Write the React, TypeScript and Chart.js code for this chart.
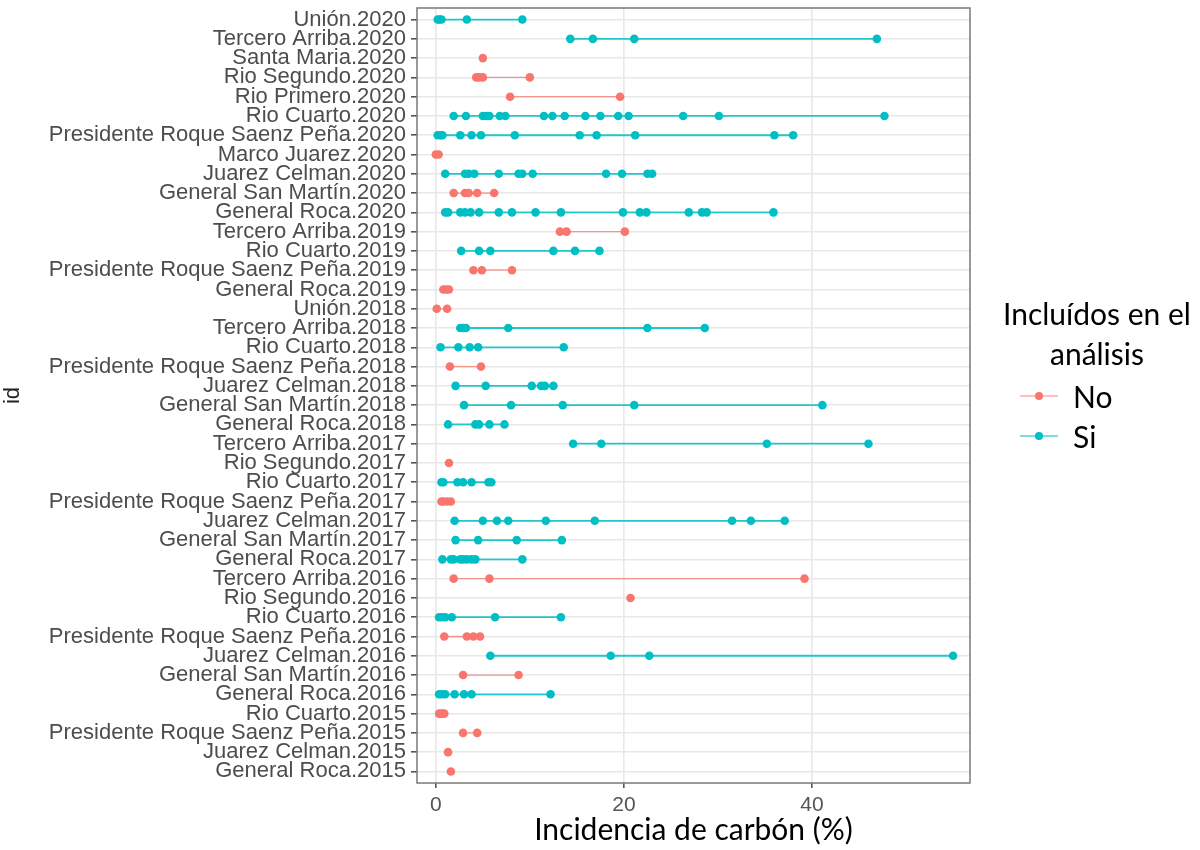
import React, { useEffect, useRef } from 'react';
import { Chart, registerables } from 'chart.js';
Chart.register(...registerables);

// Row labels, top to bottom
const ids: string[] = [
  'Unión.2020', 'Tercero Arriba.2020', 'Santa Maria.2020', 'Rio Segundo.2020', 'Rio Primero.2020',
  'Rio Cuarto.2020', 'Presidente Roque Saenz Peña.2020', 'Marco Juarez.2020', 'Juarez Celman.2020',
  'General San Martín.2020', 'General Roca.2020', 'Tercero Arriba.2019', 'Rio Cuarto.2019',
  'Presidente Roque Saenz Peña.2019', 'General Roca.2019', 'Unión.2018', 'Tercero Arriba.2018',
  'Rio Cuarto.2018', 'Presidente Roque Saenz Peña.2018', 'Juarez Celman.2018', 'General San Martín.2018',
  'General Roca.2018', 'Tercero Arriba.2017', 'Rio Segundo.2017', 'Rio Cuarto.2017',
  'Presidente Roque Saenz Peña.2017', 'Juarez Celman.2017', 'General San Martín.2017', 'General Roca.2017',
  'Tercero Arriba.2016', 'Rio Segundo.2016', 'Rio Cuarto.2016', 'Presidente Roque Saenz Peña.2016',
  'Juarez Celman.2016', 'General San Martín.2016', 'General Roca.2016', 'Rio Cuarto.2015',
  'Presidente Roque Saenz Peña.2015', 'Juarez Celman.2015', 'General Roca.2015',
];

// Included in the analysis ("Si"/"No") per row
const included: string[] = [
  'Si', 'Si', 'No', 'No', 'No', 'Si', 'Si', 'No', 'Si', 'No',
  'Si', 'No', 'Si', 'No', 'No', 'No', 'Si', 'Si', 'No', 'Si',
  'Si', 'Si', 'Si', 'No', 'Si', 'No', 'Si', 'Si', 'Si', 'No',
  'No', 'Si', 'No', 'Si', 'No', 'Si', 'No', 'No', 'No', 'No',
];

// Incidencia de carbón (%) per row
const incidence: number[][] = [
  [0.2, 0.4, 0.6, 3.3, 9.2],
  [14.3, 16.7, 21.1, 46.9],
  [5.0],
  [4.3, 4.6, 5.0, 10.0],
  [7.9, 19.6],
  [1.9, 3.2, 5.0, 5.4, 5.7, 6.8, 7.4, 11.5, 12.4, 13.7, 15.9, 17.5, 19.4, 20.5, 26.3, 30.1, 47.7],
  [0.2, 0.5, 0.7, 2.6, 3.8, 4.8, 8.4, 15.3, 17.1, 21.2, 36.0, 38.0],
  [0.0, 0.3],
  [1.0, 3.1, 3.5, 4.1, 6.7, 8.8, 9.2, 10.3, 18.1, 19.8, 22.5, 23.0],
  [1.9, 3.1, 3.5, 4.4, 6.2],
  [1.0, 1.3, 2.6, 3.1, 3.7, 4.6, 6.7, 8.1, 10.6, 13.3, 19.9, 21.7, 22.4, 26.9, 28.3, 28.8, 35.9],
  [13.2, 13.9, 20.1],
  [2.7, 4.6, 5.8, 12.5, 14.8, 17.4],
  [4.0, 4.9, 8.1],
  [0.8, 1.1, 1.4],
  [0.1, 1.2],
  [2.6, 2.9, 3.2, 7.7, 22.5, 28.6],
  [0.5, 2.4, 3.6, 4.5, 13.6],
  [1.5, 4.8],
  [2.1, 5.3, 10.2, 11.2, 11.6, 12.5],
  [3.0, 8.0, 13.5, 21.1, 41.1],
  [1.3, 4.2, 4.6, 5.7, 7.3],
  [14.6, 17.6, 35.2, 46.0],
  [1.4],
  [0.6, 0.8, 2.3, 2.9, 3.8, 5.6, 5.9],
  [0.6, 0.8, 1.2, 1.6],
  [2.0, 5.0, 6.5, 7.7, 11.7, 16.9, 31.5, 33.5, 37.1],
  [2.1, 4.5, 8.6, 13.4],
  [0.7, 1.6, 1.9, 2.6, 2.9, 3.3, 3.8, 4.2, 9.2],
  [1.9, 5.7, 39.2],
  [20.7],
  [0.35, 0.65, 1.0, 1.7, 6.3, 13.3],
  [0.9, 3.3, 4.0, 4.7],
  [5.8, 18.6, 22.7, 55.0],
  [2.9, 8.8],
  [0.35, 0.65, 1.0, 2.0, 3.0, 3.8, 12.2],
  [0.35, 0.65, 0.9],
  [2.9, 4.4],
  [1.3],
  [1.6],
];

const xTicks: number[] = [0, 20, 40];
const legendLabels: string[] = ['No', 'Si'];
const legendTitle: string[] = ['Incluídos en el', 'análisis'];
const colors: Record<string, string> = { No: '#F8766D', Si: '#00BFC4' };
const lineColors: Record<string, string> = { No: 'rgba(248,118,109,0.75)', Si: 'rgba(0,191,196,0.85)' };

const framePlugin = {
  id: 'frame',
  afterDraw(chart: any) {
    const { ctx, chartArea } = chart;
    ctx.save();
    ctx.strokeStyle = '#7a7a7a';
    ctx.lineWidth = 1.5;
    ctx.strokeRect(chartArea.left, chartArea.top, chartArea.right - chartArea.left, chartArea.bottom - chartArea.top);
    ctx.restore();
  },
};

export default function App() {
  const ref = useRef<HTMLCanvasElement | null>(null);

  useEffect(() => {
    if (!ref.current) return;
    const datasets = ids.map((id, i) => ({
      label: id,
      data: incidence[i].map((v) => ({ x: v, y: i })),
      showLine: true,
      borderColor: lineColors[included[i]],
      backgroundColor: colors[included[i]],
      pointBorderColor: colors[included[i]],
      pointBackgroundColor: colors[included[i]],
      borderWidth: included[i] === 'Si' ? 1.8 : 1.3,
      pointRadius: 4.3,
      pointBorderWidth: 0,
    }));
    const chart = new Chart(ref.current, {
      type: 'scatter',
      data: { datasets },
      plugins: [framePlugin],
      options: {
        animation: false,
        responsive: false,
        layout: { padding: { left: 0, top: 8, right: 230, bottom: 0 } },
        plugins: { legend: { display: false }, tooltip: { enabled: false } },
        scales: {
          x: {
            type: 'linear',
            min: -2.0,
            max: 56.8,
            afterBuildTicks: (scale: any) => {
              scale.ticks = xTicks.map((v) => ({ value: v }));
            },
            afterFit: (scale: any) => {
              scale.height = 67;
              scale.paddingLeft = 0;
              scale.paddingRight = 0;
            },
            grid: { color: '#E8E8E8', lineWidth: 1.6, tickColor: '#555', tickLength: 5, drawTicks: true },
            border: { display: false },
            ticks: {
              color: '#555',
              font: { family: 'Liberation Sans', size: 21 },
              padding: 5,
              maxRotation: 0,
              callback: (v: any) => String(v),
            },
            title: {
              display: true,
              text: 'Incidencia de carbón (%)',
              color: '#000',
              font: { family: 'Lato', size: 30 },
              padding: { top: 0, bottom: 2 },
            },
          },
          y: {
            type: 'linear',
            reverse: true,
            min: -0.6,
            max: 39.6,
            afterBuildTicks: (scale: any) => {
              scale.ticks = ids.map((_, i) => ({ value: i }));
            },
            afterFit: (scale: any) => {
              scale.width = 417;
              scale.paddingTop = 0;
              scale.paddingBottom = 0;
            },
            grid: { color: '#E8E8E8', lineWidth: 1.6, tickColor: '#555', tickLength: 6, drawTicks: true },
            border: { display: false },
            ticks: {
              autoSkip: false,
              color: '#4D4D4D',
              font: { family: 'Liberation Sans', size: 22 },
              padding: 5,
              callback: (v: any) => ids[v as number] ?? '',
            },
            title: {
              display: true,
              text: 'id',
              color: '#222',
              font: { family: 'Liberation Sans', size: 22 },
              padding: { top: 0, bottom: 4 },
            },
          },
        },
      } as any,
    });
    return () => chart.destroy();
  }, []);

  return (
    <div style={{ position: 'fixed', left: 0, top: 0, width: 1200, height: 850, background: '#fff' }}>
      <canvas ref={ref} width={1200} height={850} style={{ position: 'absolute', left: 0, top: 0 }} />
      <div
        style={{
          position: 'absolute',
          left: 994,
          top: 293,
          width: 206,
          textAlign: 'center',
          fontFamily: 'Lato',
          fontSize: 30,
          lineHeight: '40px',
          color: '#000',
          whiteSpace: 'nowrap',
        }}
      >
        {legendTitle.map((t) => (
          <div key={t}>{t}</div>
        ))}
      </div>
      {legendLabels.map((lab, k) => (
        <div
          key={lab}
          style={{ position: 'absolute', left: 1020, top: 376 + k * 40, height: 40, display: 'flex', alignItems: 'center' }}
        >
          <div style={{ position: 'relative', width: 38, height: 40 }}>
            <div style={{ position: 'absolute', left: 0, top: 19, width: 38, height: 1.5, background: lineColors[lab], opacity: 0.6 }} />
            <div style={{ position: 'absolute', left: 15, top: 16, width: 8, height: 8, borderRadius: 4, background: colors[lab] }} />
          </div>
          <span style={{ marginLeft: 15, fontFamily: 'Lato', fontSize: 30, color: '#000' }}>{lab}</span>
        </div>
      ))}
    </div>
  );
}
